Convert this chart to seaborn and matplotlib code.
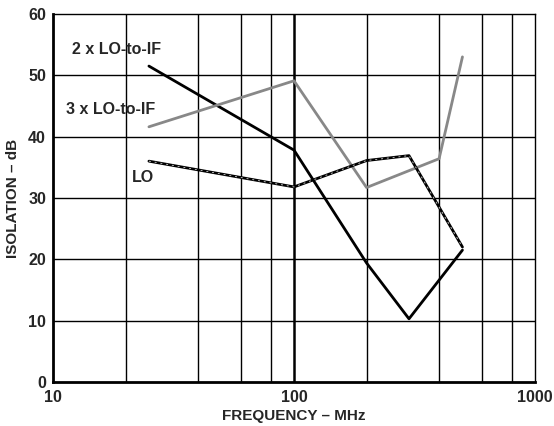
import matplotlib
matplotlib.use('Agg')
import matplotlib.pyplot as plt
import numpy as np
import pandas as pd
import seaborn as sns

#%% DATOS

freq_2x = [25, 100, 200, 300, 500]
iso_2x = [51.5, 37.8, 19.4, 10.3, 21.5]

freq_3x = [25, 100, 200, 400, 500]
iso_3x = [41.6, 49.1, 31.7, 36.4, 53.0]

freq_lo = [25, 100, 200, 300, 500]
iso_lo = [36.0, 31.8, 36.1, 36.9, 22.0]

x_ticks = [10, 100, 1000]
y_ticks = [0, 10, 20, 30, 40, 50, 60]
x_grid = [20, 40, 60, 80, 200, 400, 600, 800]

#%% GRAFICO

sns.set_style('white')
plt.rcParams['font.family'] = ['Liberation Sans', 'DejaVu Sans']
plt.rcParams['font.weight'] = 'bold'

fig = plt.figure(figsize=(5.54, 4.26), dpi=100)
ax = fig.add_axes([0.0957, 0.1033, 0.87, 0.864])

for g in x_grid:
    ax.axvline(g, color='black', lw=1.0, zorder=1)
ax.axvline(100, color='black', lw=1.8, zorder=1)
for g in y_ticks[1:-1]:
    ax.axhline(g, color='black', lw=1.0, zorder=1)

d2 = pd.DataFrame({'f': freq_2x, 'iso': iso_2x})
d3 = pd.DataFrame({'f': freq_3x, 'iso': iso_3x})
dlo = pd.DataFrame({'f': freq_lo, 'iso': iso_lo})

sns.lineplot(data=d2, x='f', y='iso', color='black', lw=2.0, ax=ax, zorder=3)
sns.lineplot(data=d3, x='f', y='iso', color='#888888', lw=2.0, ax=ax, zorder=3)
sns.lineplot(data=dlo, x='f', y='iso', color='black', lw=2.0, ax=ax, zorder=3)
sns.lineplot(data=dlo, x='f', y='iso', color='#bbbbbb', lw=0.7, ax=ax, zorder=4,
             dashes=False, linestyle=(0, (2, 4)))

ax.set_xscale('log')
ax.set_xlim(10, 1000)
ax.set_ylim(0, 60)
ax.set_xticks(x_ticks)
ax.set_xticklabels([str(t) for t in x_ticks])
ax.minorticks_off()
ax.set_yticks(y_ticks)
ax.tick_params(axis='y', length=0, labelsize=11.5, pad=5)
ax.tick_params(axis='x', length=0, labelsize=11.5, pad=6)
for lab in ax.get_xticklabels() + ax.get_yticklabels():
    lab.set_fontweight('bold')

for s in ['top', 'right']:
    ax.spines[s].set_linewidth(1.0)
for s in ['bottom', 'left']:
    ax.spines[s].set_linewidth(2.0)
for s in ax.spines.values():
    s.set_color('black')

ax.set_xlabel('FREQUENCY – MHz', fontsize=11, fontweight='bold', labelpad=3)
ax.set_ylabel('ISOLATION – dB', fontsize=11, fontweight='bold', labelpad=6)

ax.text(12, 54.2, '2 x LO-to-IF', fontsize=11.5, fontweight='bold', va='center')
ax.text(11.3, 44.4, '3 x LO-to-IF', fontsize=11.5, fontweight='bold', va='center')
ax.text(21.3, 33.3, 'LO', fontsize=11.5, fontweight='bold', va='center')

fig.savefig('out.png', dpi=100)
